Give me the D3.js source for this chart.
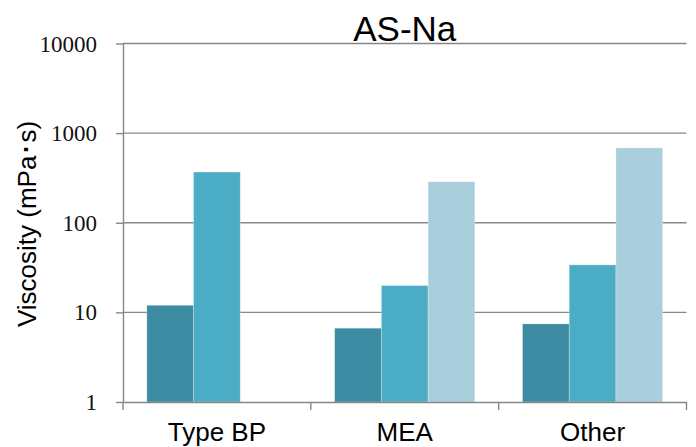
<!DOCTYPE html>
<html><head><meta charset="utf-8">
<script src="https://cdn.jsdelivr.net/npm/d3@7"></script>
<style>body{margin:0;background:#fff}svg{display:block}</style>
</head><body>
<script>
const categories = ["Type BP", "MEA", "Other"];
const seriesNames = ["s1", "s2", "s3"];
const s1 = [12.0, 6.66, 7.44];
const s2 = [368, 19.9, 33.9];
const s3 = [null, 287, 684];
const yTicks = [1, 10, 100, 1000, 10000];
const colors = ["#3c8ba3", "#4badc5", "#a9cedc"];
const title = "AS-Na";
const yLabel = "Viscosity (mPa･s)";

const W = 696, H = 447;
const m = {left: 123, right: 10, top: 43.5, bottom: 45};
const svg = d3.select("body").append("svg").attr("width", W).attr("height", H);
const x0 = d3.scaleBand().domain(categories).range([m.left, 686.5]).paddingInner(0).paddingOuter(0);
const x1 = d3.scaleBand().domain(seriesNames).range([0, x0.bandwidth()]).paddingOuter(0.51).paddingInner(0);
const y = d3.scaleLog().domain([1, 10000]).range([402, m.top]);

// gridlines
svg.append("g").selectAll("line").data(yTicks.slice(1)).join("line")
  .attr("x1", m.left).attr("x2", 686.5)
  .attr("y1", d => y(d)).attr("y2", d => y(d))
  .attr("stroke", "#878787").attr("stroke-width", 1.4);

// bars
const series = [s1, s2, s3];
const g = svg.append("g");
categories.forEach((c, i) => {
  seriesNames.forEach((s, j) => {
    const v = series[j][i];
    if (v == null) return;
    g.append("rect")
      .attr("x", x0(c) + x1(s))
      .attr("width", x1.bandwidth())
      .attr("y", y(v))
      .attr("height", y(1) - y(v))
      .attr("fill", colors[j])
      .attr("stroke", "rgba(255,255,255,0.35)").attr("stroke-width", 0.8);
  });
});

// y axis
const ya = svg.append("g").attr("transform", `translate(${m.left},0)`)
  .call(d3.axisLeft(y).tickValues(yTicks).tickFormat(d3.format("d")).tickSize(7).tickSizeOuter(0));
ya.select(".domain").attr("stroke", "#878787").attr("stroke-width", 1.4);
ya.selectAll(".tick line").attr("stroke", "#878787").attr("stroke-width", 1.4);
ya.selectAll(".tick text").attr("font-family", "'Liberation Serif','Times New Roman',serif")
  .attr("font-size", 23).attr("fill", "#111").attr("x", -26).attr("dy", "0.33em");

// x axis
const xa = svg.append("g").attr("transform", `translate(0,402)`)
  .call(d3.axisBottom(x0).tickSize(0).tickSizeOuter(0));
xa.select(".domain").attr("stroke", "#878787").attr("stroke-width", 1.4);
xa.selectAll(".tick text").attr("font-family", "'Liberation Sans',Arial,sans-serif")
  .attr("font-size", 26).attr("fill", "#000").attr("dy", 0).attr("y", 39);
// x boundary ticks
const bounds = [m.left].concat(categories.map(c => x0(c) + x0.bandwidth()));
svg.append("g").selectAll("line").data(bounds).join("line")
  .attr("x1", d => d).attr("x2", d => d).attr("y1", 402).attr("y2", 410)
  .attr("stroke", "#878787").attr("stroke-width", 1.4);

// title
svg.append("text").attr("x", (m.left + 686.5) / 2).attr("y", 41)
  .attr("text-anchor", "middle").attr("font-family", "'Liberation Sans',Arial,sans-serif")
  .attr("font-size", 35).attr("fill", "#000").text(title);

// y label
svg.append("text").attr("transform", `translate(36,224) rotate(-90)`)
  .attr("text-anchor", "middle").attr("font-family", "'Liberation Sans',Arial,sans-serif")
  .attr("font-size", 26).attr("fill", "#000").text(yLabel);
</script>
</body></html>
